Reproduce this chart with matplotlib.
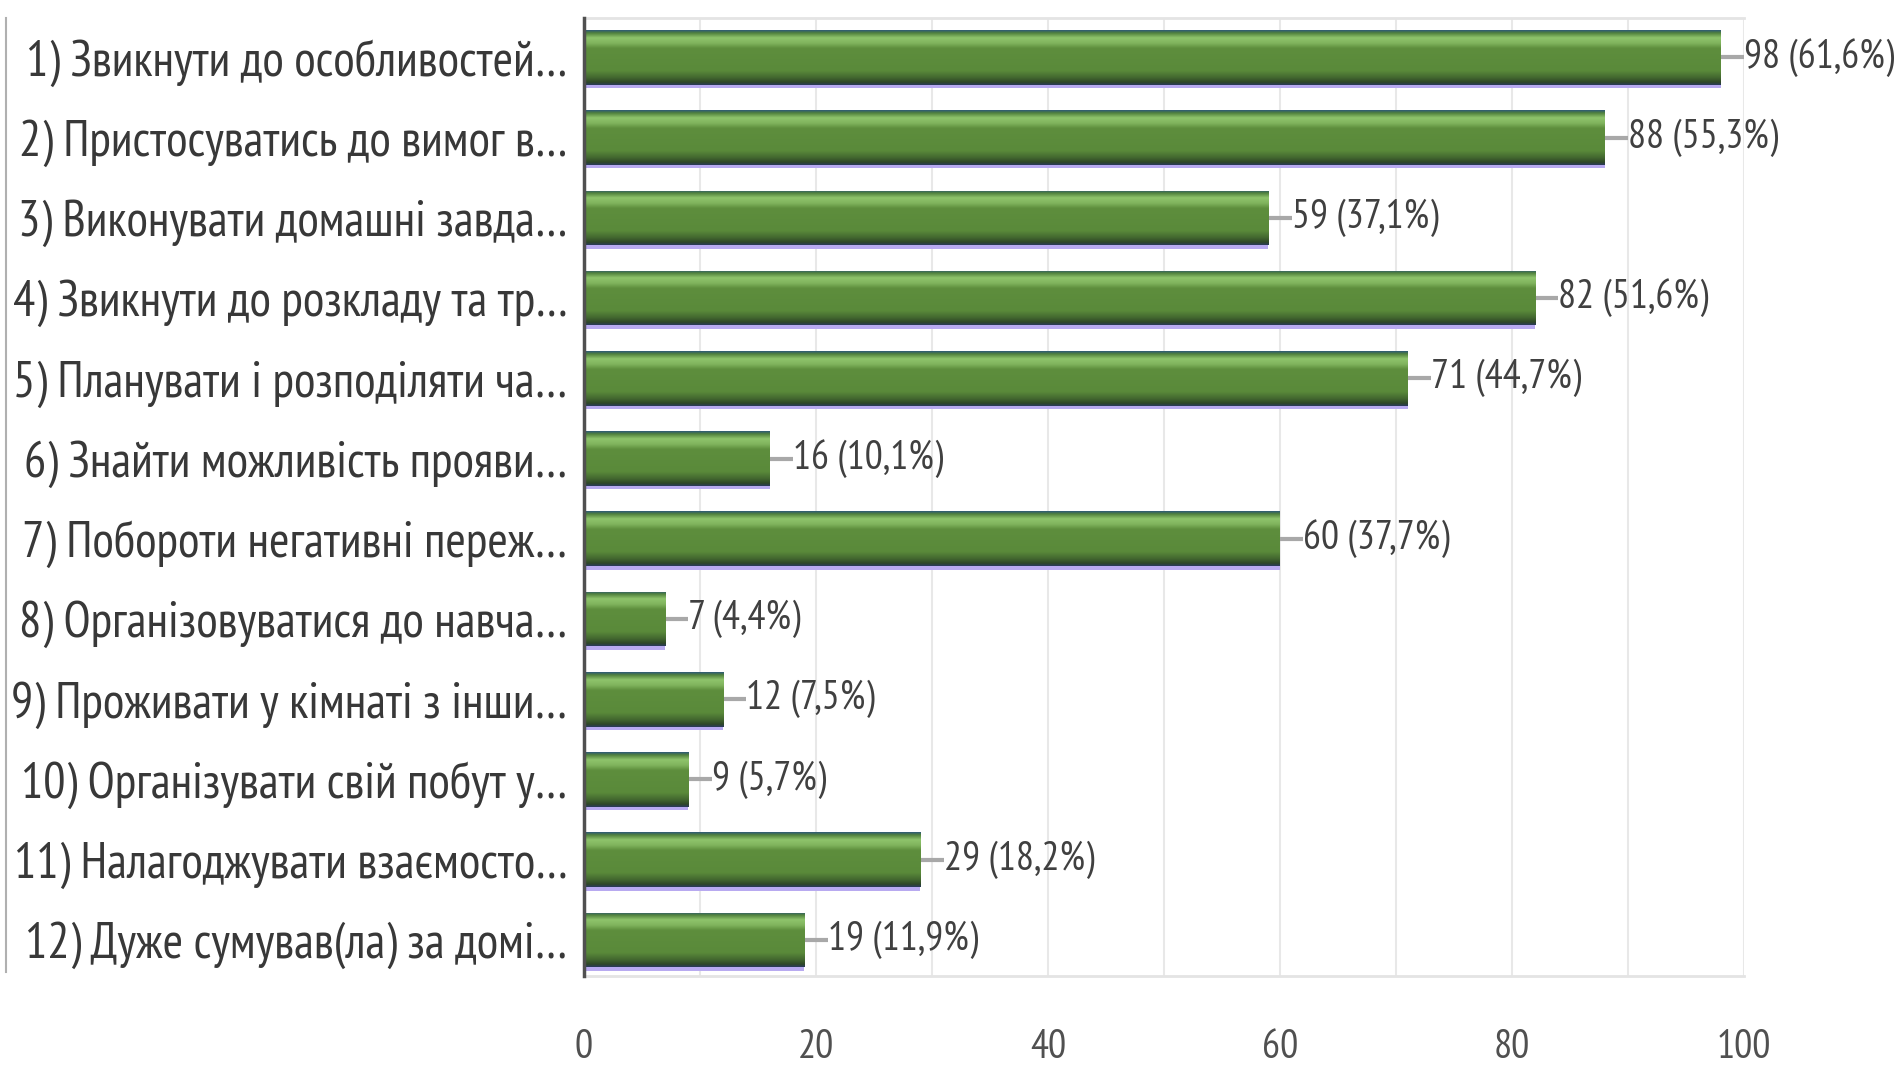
import matplotlib.pyplot as plt
import numpy as np
from matplotlib import font_manager
from matplotlib.colors import LinearSegmentedColormap

labels = [
    "1) Звикнути до особливостей…",
    "2) Пристосуватись до вимог в…",
    "3) Виконувати домашні завда…",
    "4) Звикнути до розкладу та тр…",
    "5) Планувати і розподіляти ча…",
    "6) Знайти можливість прояви…",
    "7) Побороти негативні переж…",
    "8) Організовуватися до навча…",
    "9) Проживати у кімнаті з інши…",
    "10) Організувати свій побут у…",
    "11) Налагоджувати взаємосто…",
    "12) Дуже сумував(ла) за домі…",
]
counts = [98, 88, 59, 82, 71, 16, 60, 7, 12, 9, 29, 19]
percents = ["61,6", "55,3", "37,1", "51,6", "44,7", "10,1", "37,7", "4,4", "7,5", "5,7", "18,2", "11,9"]
xticks = [0, 20, 40, 60, 80, 100]

# pick a narrow font (the reference uses an Arial Narrow look)
names = {f.name for f in font_manager.fontManager.ttflist}
family = 'Liberation Sans'
for cand in ['Liberation Sans Narrow', 'Arial Narrow', 'PT Sans Narrow', 'Roboto Condensed',
             'Archivo Narrow', 'IBM Plex Sans Condensed']:
    if cand in names:
        family = cand
        break
plt.rcParams['font.family'] = [family, 'DejaVu Sans']

fig = plt.figure(figsize=(19.01, 10.68), dpi=100)
ax = fig.add_axes([0.3072, 0.0861, 0.6102, 0.897])
renderer = fig.canvas.get_renderer()


def fit_size(s, target_px):
    t = fig.text(0, 0, s, fontsize=20)
    w = t.get_window_extent(renderer).width
    t.remove()
    return 20 * target_px / w


lab_fs = fit_size(labels[0], 542)
val_fs = fit_size("98 (61,6%)", 150)
tick_fs = fit_size("100", 54)

bar_h = 0.68
y = np.arange(len(counts))

# bar gradient (top -> bottom)
green = LinearSegmentedColormap.from_list('bar', [
    (0.00, '#2e5a78'), (0.05, '#4f7f3c'), (0.14, '#8fc46c'), (0.24, '#7fb35c'),
    (0.33, '#5e8e3d'), (0.74, '#5a8a3a'), (0.87, '#42662f'), (0.95, '#2e4727'),
    (1.00, '#2a3b5c')])
grad = np.linspace(0, 1, 256).reshape(-1, 1)

# lavender shadow under bars
ax.barh(y + bar_h / 2 + 0.02, counts, height=0.05, color='#b8aaf0', zorder=2)
bars = ax.barh(y, counts, height=bar_h, color='none', edgecolor='none', zorder=3)
for b in bars:
    x0, y0 = b.get_x(), b.get_y()
    w, h = b.get_width(), b.get_height()
    im = ax.imshow(grad, cmap=green, aspect='auto', extent=(x0, x0 + w, y0 + h, y0),
                   zorder=3, interpolation='bilinear')
    im.set_clip_path(b)

for yi, c, p in zip(y, counts, percents):
    ax.plot([c, c + 2.0], [yi, yi], color='#a8a8a8', lw=3, zorder=2, solid_capstyle='butt')
    ax.text(c + 2.0, yi, f"{c} ({p}%)", va='center', ha='left', fontsize=val_fs,
            color='#404040')

ax.set_xlim(0, 100)
ax.set_ylim(len(counts) - 1 + 0.45, -0.49)
ax.set_xticks(xticks)
ax.set_xticks(np.arange(0, 101, 10), minor=True)
ax.grid(True, axis='x', which='both', color='#e8e8e8', lw=1.5, zorder=0)
ax.set_axisbelow(True)
ax.set_yticks(y)
ax.set_yticklabels(labels, fontsize=lab_fs, color='#383838')
ax.tick_params(axis='y', length=0, pad=12)
ax.tick_params(axis='x', which='both', length=0, pad=38, labelsize=tick_fs, labelcolor='#505050')

for s in ['top', 'bottom']:
    ax.spines[s].set_color('#e4e4e4')
    ax.spines[s].set_linewidth(2)
ax.spines['right'].set_visible(False)
ax.spines['left'].set_color('#505050')
ax.spines['left'].set_linewidth(2.5)
ax.spines['left'].set_zorder(5)

# thin border line on the far left
fig.add_artist(plt.Line2D([0.003, 0.003], [0.09, 0.983], color='#b0b0b0', lw=1.5))

plt.savefig('out.png', dpi=100)
